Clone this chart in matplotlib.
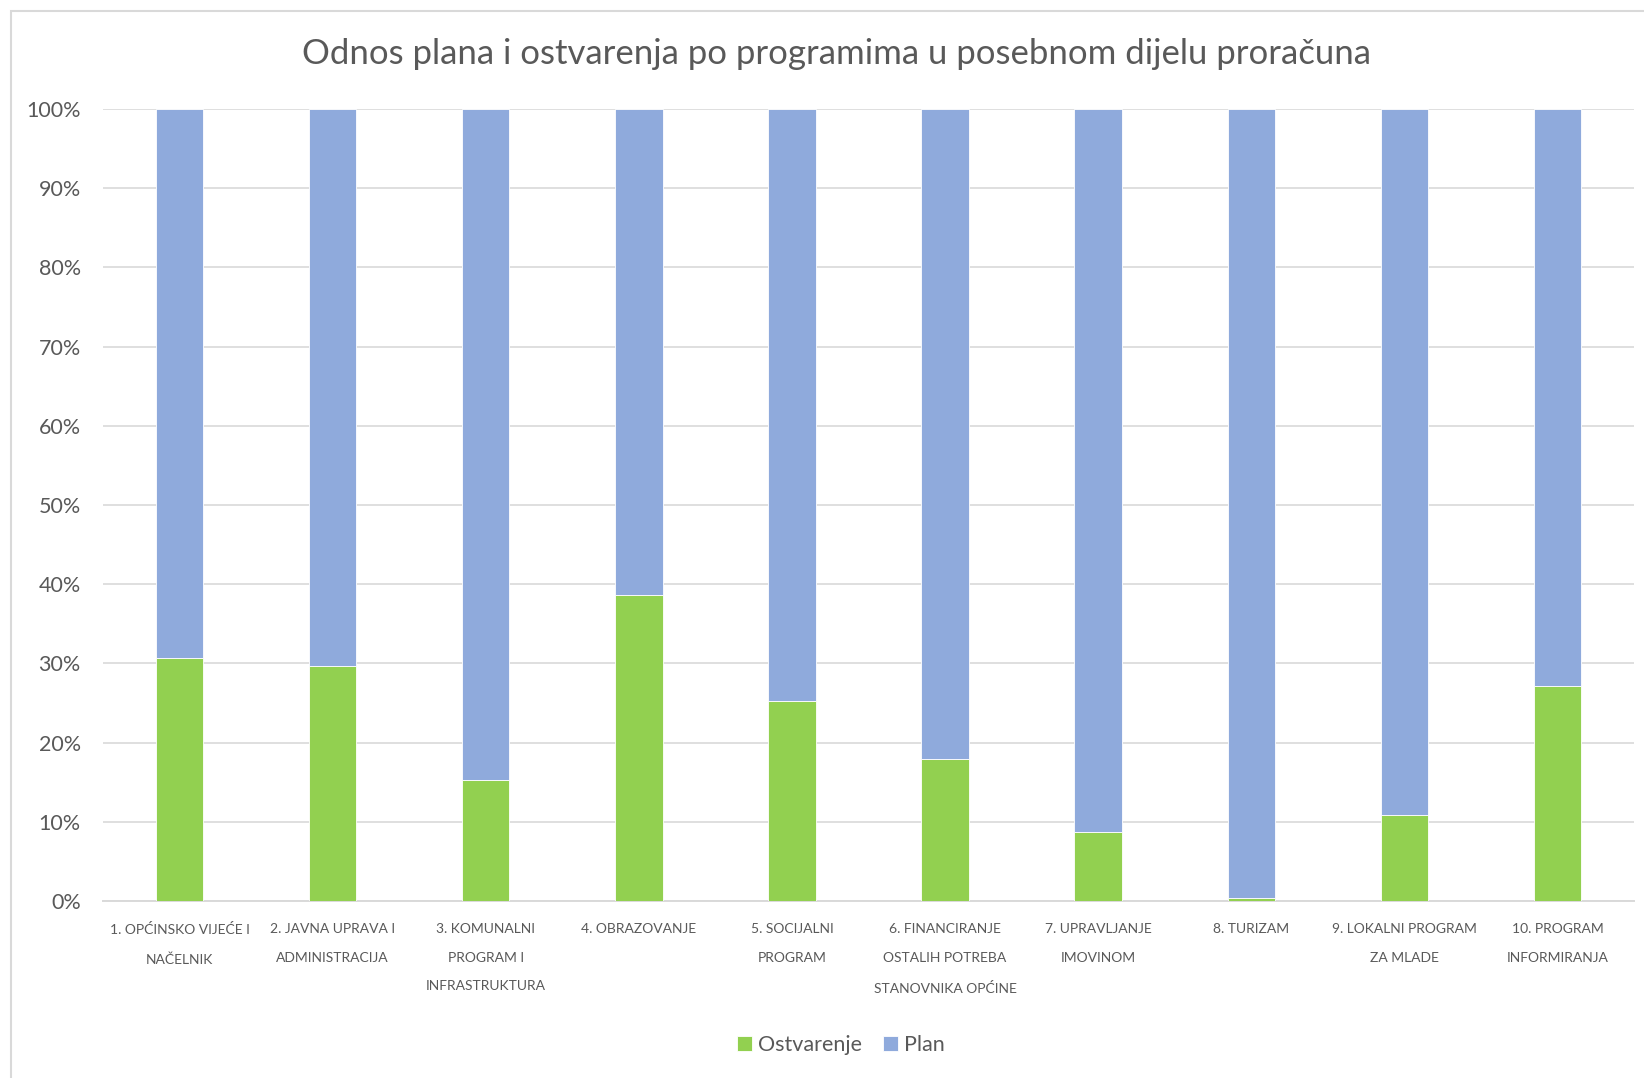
import matplotlib.pyplot as plt
from matplotlib.patches import Rectangle
from matplotlib.ticker import PercentFormatter

# Programmes (labels wrapped as in the original chart)
programs = [
    "1. OPĆINSKO VIJEĆE I\nNAČELNIK",
    "2. JAVNA UPRAVA I\nADMINISTRACIJA",
    "3. KOMUNALNI\nPROGRAM I\nINFRASTRUKTURA",
    "4. OBRAZOVANJE",
    "5. SOCIJALNI\nPROGRAM",
    "6. FINANCIRANJE\nOSTALIH POTREBA\nSTANOVNIKA OPĆINE",
    "7. UPRAVLJANJE\nIMOVINOM",
    "8. TURIZAM",
    "9. LOKALNI PROGRAM\nZA MLADE",
    "10. PROGRAM\nINFORMIRANJA",
]

# shares in percent (100% stacked)
ostvarenje = [30.7, 29.7, 15.3, 38.6, 25.3, 17.9, 8.7, 0.4, 10.9, 27.2]
plan = [69.3, 70.3, 84.7, 61.4, 74.7, 82.1, 91.3, 99.6, 89.1, 72.8]

GREEN = "#92D050"
BLUE = "#8FAADC"
GRID = "#D9D9D9"
TEXT = "#595959"
FONT = "Lato"

W, H, DPI = 1644, 1078, 100
fig = plt.figure(figsize=(W / DPI, H / DPI), dpi=DPI)
ax = fig.add_axes([103 / W, 1 - 901 / H, (1634 - 103) / W, (901 - 109) / H])

x = range(len(programs))
ax.bar(x, ostvarenje, width=0.31, color=GREEN, edgecolor="white", linewidth=0.6,
       label="Ostvarenje", zorder=3)
ax.bar(x, plan, bottom=ostvarenje, width=0.31, color=BLUE, edgecolor="white",
       linewidth=0.6, label="Plan", zorder=3)

ax.set_xlim(-0.5, len(programs) - 0.5)
ax.set_ylim(0, 100)
ax.set_yticks(range(0, 101, 10))
ax.yaxis.set_major_formatter(PercentFormatter(decimals=0))
ax.grid(axis="y", color=GRID, linewidth=1.2, zorder=0)
for side in ("top", "right", "left"):
    ax.spines[side].set_visible(False)
ax.spines["bottom"].set_color(GRID)
ax.spines["bottom"].set_linewidth(1.4)
ax.tick_params(axis="both", length=0, colors=TEXT)
ax.tick_params(axis="y", labelsize=15.5, pad=16)
ax.tick_params(axis="x", pad=16)

ax.set_xticks(list(x))
ax.set_xticklabels(programs, fontsize=10, color=TEXT, family=FONT,
                   linespacing=2.65, va="top")
for lbl in ax.get_yticklabels():
    lbl.set_family(FONT)

fig.text(837 / W, 1 - 54 / H, "Odnos plana i ostvarenja po programima u posebnom dijelu proračuna",
         ha="center", va="center", fontsize=25, color=TEXT, family=FONT)

leg = fig.legend(loc="center", bbox_to_anchor=(841 / W, 1 - 1045 / H), ncol=2,
                 frameon=False, fontsize=15.5, handlelength=0.7, handleheight=0.7,
                 handletextpad=0.25, columnspacing=1.0)
for t in leg.get_texts():
    t.set_color(TEXT)
    t.set_family(FONT)

# light chart border, running off the right and bottom edges
fig.patches.append(Rectangle((11 / W, -0.05), 1.2, 1.05 - 11 / H, fill=False,
                             edgecolor=GRID, linewidth=1.5, transform=fig.transFigure))

fig.savefig("out.png", dpi=DPI)
